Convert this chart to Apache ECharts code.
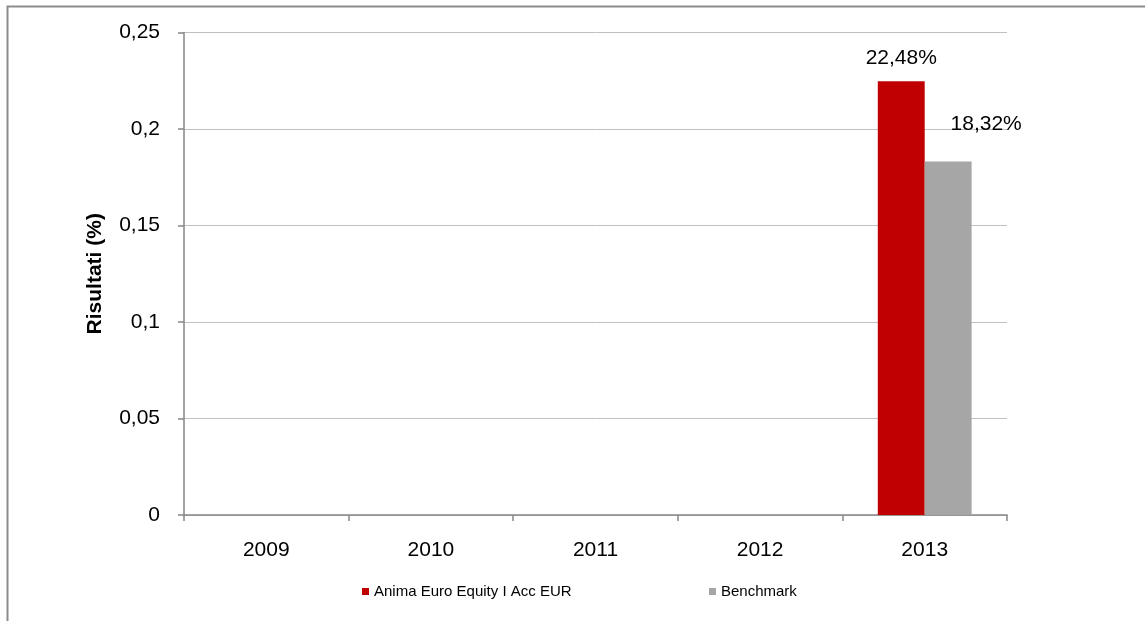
<!DOCTYPE html>
<html><head><meta charset="utf-8">
<script src="https://cdn.jsdelivr.net/npm/echarts@6/dist/echarts.min.js"></script>
<style>html,body{margin:0;padding:0;background:#fff}#c{width:1145px;height:621px}</style>
</head><body><div id="c"></div>
<script>
var categories = ['2009', '2010', '2011', '2012', '2013'];
var fundName = 'Anima Euro Equity I Acc EUR';
var benchName = 'Benchmark';
var fundValues = [null, null, null, null, 0.2248];
var benchValues = [null, null, null, null, 0.1832];
var yTicks = [0, 0.05, 0.1, 0.15, 0.2, 0.25];

function fmtPct(v) { return (v * 100).toFixed(2).replace('.', ',') + '%'; }
function fmtTick(v) { return String(+(+v).toFixed(2)).replace('.', ','); }

var chart = echarts.init(document.getElementById('c'), null, {renderer: 'canvas'});
var font = 'Liberation Sans, Arial, sans-serif';
chart.setOption({
  animation: false,
  textStyle: {fontFamily: font},
  graphic: [{
    type: 'rect', shape: {x: 7.5, y: 6.5, width: 1200, height: 700},
    style: {fill: 'none', stroke: '#8c8c8c', lineWidth: 2}, silent: true
  }],
  legend: [{
    data: [fundName], left: 362, top: 584, padding: 0, itemWidth: 7, itemHeight: 7,
    icon: 'rect', textStyle: {fontSize: 15, color: '#000', fontFamily: font}
  }, {
    data: [benchName], left: 709, top: 584, padding: 0, itemWidth: 7, itemHeight: 7,
    icon: 'rect', textStyle: {fontSize: 15, color: '#000', fontFamily: font}
  }],
  grid: {left: 184, right: 138, top: 32.5, bottom: 106, containLabel: false},
  xAxis: {
    type: 'category', data: categories,
    axisLine: {lineStyle: {color: '#868686', width: 1.5}},
    axisTick: {show: true, length: 6, lineStyle: {color: '#868686', width: 1.5}},
    axisLabel: {fontSize: 21, color: '#000', margin: 25, fontFamily: font}
  },
  yAxis: {
    type: 'value', min: 0, max: 0.25, interval: 0.05,
    name: 'Risultati (%)', nameLocation: 'middle', nameGap: 78, nameRotate: 90,
    nameTextStyle: {fontSize: 21, fontWeight: 'bold', color: '#000', fontFamily: font},
    axisLine: {show: true, lineStyle: {color: '#868686', width: 1.5}},
    axisTick: {show: true, length: 6, lineStyle: {color: '#868686', width: 1.5}},
    splitLine: {lineStyle: {color: '#c0c0c0', width: 1}},
    axisLabel: {fontSize: 21, color: '#000', margin: 24, fontFamily: font, formatter: fmtTick}
  },
  series: [{
    name: fundName, type: 'bar', data: fundValues, barGap: '0%', barCategoryGap: '43%',
    itemStyle: {color: '#c00000'},
    label: {show: true, position: 'top', distance: 12, fontSize: 21, color: '#000', fontFamily: font,
      formatter: function (p) { return fmtPct(p.value); }}
  }, {
    name: benchName, type: 'bar', data: benchValues, barGap: '0%', barCategoryGap: '43%',
    itemStyle: {color: '#a6a6a6'},
    label: {show: true, position: 'top', distance: 12, offset: [38, -15], fontSize: 21, color: '#000', fontFamily: font,
      formatter: function (p) { return fmtPct(p.value); }}
  }]
});
</script></body></html>
